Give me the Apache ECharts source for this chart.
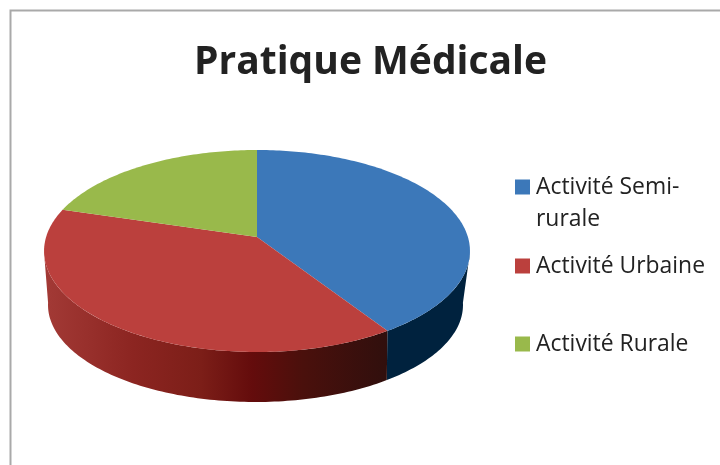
<!DOCTYPE html>
<html>
<head>
<meta charset="utf-8">
<style>
  html, body { margin: 0; padding: 0; background: #fff; }
  #chart { width: 720px; height: 465px; }
</style>
<script src="https://cdn.jsdelivr.net/npm/echarts@6/dist/echarts.min.js"></script>
</head>
<body>
<div id="chart"></div>
<script>
const categories = ["Activité Semi-rurale", "Activité Urbaine", "Activité Rurale"];
const values = [40.8, 38.8, 20.4];
const topColors = ["#3c78b9", "#bb403d", "#99b94b"];
const chartTitle = "Pratique Médicale";

// fake perspective for the tilted disc (echarts has no 3d pie without gl)
const disc = { x: 257, y: 237, a: 210.9, b: 99.06, k: -0.1386 };
const rim = { x: 255.5, y: 287.55, a: 204.1, b: 93.85, k: -0.18 };
const wallFrom = 99;
const wallTo = 261;

const total = values.reduce((s, v) => s + v, 0);

function project(deg, p) {
  const t = (deg * Math.PI) / 180;
  const v = -Math.cos(t);
  const w = 1 + p.k * v;
  return [p.x + (p.a * Math.sin(t)) / w, p.y + (p.b * v) / w];
}

function arc(from, to, p) {
  const pts = [];
  const n = Math.max(2, Math.ceil(Math.abs(to - from)));
  for (let i = 0; i <= n; i++) {
    pts.push(project(from + ((to - from) * i) / n, p));
  }
  return pts;
}

function wallFill(index) {
  if (index === 0) return "#00223e";
  return new echarts.graphic.LinearGradient(
    48, 0, 388, 0,
    [
      { offset: 0, color: "#a23935" },
      { offset: 0.25, color: "#8c2521" },
      { offset: 0.45, color: "#7c1e18" },
      { offset: 0.6, color: "#640c0c" },
      { offset: 0.75, color: "#4a100c" },
      { offset: 1, color: "#300f0d" },
    ],
    true
  );
}

function renderSlice(params, api) {
  const i = params.seriesIndex;
  let before = 0;
  for (let j = 0; j < i; j++) before += values[j];
  const start = (before / total) * 360;
  const end = start + (api.value(0) / total) * 360;
  const children = [];

  const a = Math.max(start, wallFrom);
  const b = Math.min(end, wallTo);
  if (b > a) {
    children.push({
      type: "polygon",
      shape: { points: arc(a, b, disc).concat(arc(b, a, rim)) },
      style: { fill: wallFill(i) },
    });
  }
  children.push({
    type: "polygon",
    shape: { points: [[disc.x, disc.y]].concat(arc(start, end, disc)) },
    style: { fill: topColors[i] },
  });
  return { type: "group", children };
}

const chart = echarts.init(document.getElementById("chart"));
const legendTops = [134, 245, 323];

chart.setOption({
  animation: false,
  title: {
    text: chartTitle,
    left: 189,
    top: 38,
    textStyle: { fontFamily: "Open Sans", fontWeight: "bold", fontSize: 39, color: "#222222" },
  },
  legend: categories.map((name, i) => ({
    data: [name],
    left: 510,
    top: legendTops[i],
    orient: "vertical",
    icon: "rect",
    itemWidth: 15,
    itemHeight: 15,
    itemGap: 0,
    selectedMode: false,
    formatter: (n) => (n === categories[0] ? "\nActivité Semi-\nrurale" : n),
    textStyle: {
      fontFamily: "Open Sans",
      fontSize: 22.9,
      lineHeight: 32,
      color: "#222222",
      padding: [0, 0, 0, 1],
    },
  })),
  graphic: [
    {
      type: "rect",
      shape: { x: 10.5, y: 10.5, width: 720, height: 470 },
      style: { fill: "none", stroke: "#a9a9a9", lineWidth: 2 },
      silent: true,
    },
  ],
  series: categories.map((name, i) => ({
    type: "custom",
    name,
    coordinateSystem: "none",
    silent: true,
    itemStyle: { color: topColors[i] },
    renderItem: renderSlice,
    data: [[values[i]]],
  })),
});
</script>
</body>
</html>
